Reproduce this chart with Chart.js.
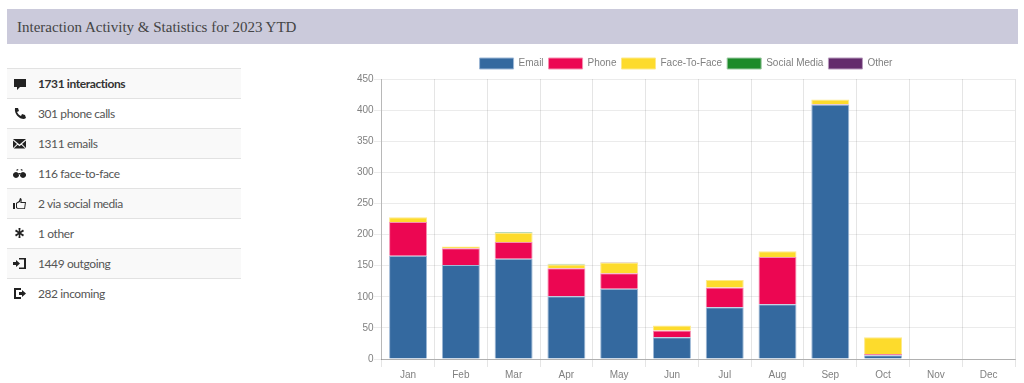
<!DOCTYPE html>
<html>
<head>
<meta charset="utf-8">
<title>Interaction Activity</title>
<script src="https://cdn.jsdelivr.net/npm/chart.js@4/dist/chart.umd.js"></script>
<style>
  html, body { margin: 0; padding: 0; background: #fff; width: 1024px; height: 383px; overflow: hidden; }
  #title {
    position: absolute; left: 7px; top: 9px; width: 1001px; height: 35px; padding-left: 10px;
    background: #cbcadb; color: #444; font: 15px/37px "Liberation Serif", serif;
  }
  #stats { position: absolute; left: 7px; top: 68px; width: 234px; }
  .row {
    height: 29px; border-top: 1px solid #e2e2e2; position: relative;
    font: 12px/30px Lato, sans-serif; letter-spacing: -0.4px; color: #555;
  }
  .row:nth-child(odd) { background: #f9f9f9; }
  .row.total { font-weight: bold; color: #333; }
  .row span { position: absolute; left: 31px; top: 0; white-space: nowrap; }
  .row svg { position: absolute; left: 6px; top: 8px; width: 13px; height: 13px; fill: #222; }
  #chart { position: absolute; left: 352px; top: 53px; }
</style>
</head>
<body>
<div id="title">Interaction Activity &amp; Statistics for 2023 YTD</div>
<div id="stats"></div>
<canvas id="chart" width="666" height="330"></canvas>

<script>
const MONTHS = ['Jan','Feb','Mar','Apr','May','Jun','Jul','Aug','Sep','Oct','Nov','Dec'];

const EMAIL  = [166, 151, 161, 101, 113, 35, 83, 88, 409, 6, 0, 0];
const PHONE  = [54, 27, 27, 45, 25, 11, 32, 76, 1, 2, 0, 0];
const F2F    = [8, 3, 15, 6, 17, 8, 12, 9, 7, 27, 0, 0];
const SOCIAL = [0, 0, 1, 1, 0, 0, 0, 0, 0, 0, 0, 0];
const OTHER  = [0, 0, 0, 0, 1, 0, 0, 0, 0, 0, 0, 0];

const STATS = [
  ['1731 interactions', 'M1 2h12v8H7l-3 3v-3H1z'],
  ['301 phone calls', 'M2 1l3 0 1 3-2 1c1 2 2 3 4 4l1-2 3 1 1 3-2 1C6 12 1 7 2 1z'],
  ['1311 emails', 'M0 2h13L6.500 7.500zM0 3.500l4 3.500-4 4zM13 3.500v7.500l-4-4zM4.700 7.700l1.800 1.500 1.800-1.500 4 3.800H.7z'],
  ['116 face-to-face', 'M3 5a3 3 0 1 0 .01 0zM10 5a3 3 0 1 0 .01 0zM3 3l2-1 .4 1-1.400.700zM10 3l-2-1-.4 1 1.400.700zM5.500 6h2v1.500h-2z'],
  ['2 via social media', 'M0 6h2v6H0zM3 6l3-2 1-3c1.500 0 2 1 1.500 4H13l-1 7H5l-2-1zM4 6.500V10.500l1.500.700h5.700l.7-5.200H7.300l.5-3-.9 2z'],
  ['1 other', 'M5.500 1h2l-.3 3.500L10 2.500l1 1.700-3 1.800 3 1.800-1 1.700-2.800-2L7.500 11h-2l.3-3.500L3 9.500 2 7.800 5 6 2 4.200l1-1.700 2.800 2z'],
  ['1449 outgoing', 'M0 5h3V3l4 3.500L3 10V8H0zM6 1h7v11H6v-1.500h5v-8H6z'],
  ['282 incoming', 'M1 1h7v2H3v7h5v2H1zM6 5h3V3l4 3.500L9 10V8H6z']
];

const box = document.getElementById('stats');
STATS.forEach(([label, icon], i) => {
  const row = document.createElement('div');
  row.className = i === 0 ? 'row total' : 'row';
  row.innerHTML = `<svg viewBox="0 0 13 13"><path fill-rule="evenodd" d="${icon}"/></svg><span>${label}</span>`;
  box.appendChild(row);
});

function series(label, data, color, border) {
  return { label, data, backgroundColor: color, borderColor: border, borderWidth: 1 };
}

Chart.defaults.font.family = '"Liberation Sans", Arial, sans-serif';
Chart.defaults.font.size = 10;
Chart.defaults.color = '#808080';

new Chart(document.getElementById('chart'), {
  type: 'bar',
  data: {
    labels: MONTHS,
    datasets: [
      series('Email', EMAIL, '#34699f', '#9db8d6'),
      series('Phone', PHONE, '#ec0652', '#f58fb0'),
      series('Face-To-Face', F2F, '#fddb2c', '#fde98a'),
      series('Social Media', SOCIAL, '#1d8b2a', '#9cc9a2'),
      series('Other', OTHER, '#632b6c', '#b79bbc')
    ]
  },
  options: {
    responsive: false,
    animation: false,
    layout: { padding: { left: 5, right: 3, top: 0, bottom: 0 } },
    plugins: {
      tooltip: { enabled: false },
      legend: {
        position: 'top',
        labels: { boxWidth: 34, boxHeight: 11, padding: 5 }
      }
    },
    scales: {
      x: {
        stacked: true,
        categoryPercentage: 0.8,
        barPercentage: 0.9,
        grid: { color: 'rgba(0,0,0,0.1)', tickLength: 8, offset: true },
        border: { color: 'rgba(0,0,0,0.25)' },
        ticks: { padding: 2, maxRotation: 0 }
      },
      y: {
        stacked: true,
        min: 0,
        max: 450,
        grid: { color: 'rgba(0,0,0,0.08)', tickLength: 8 },
        border: { color: 'rgba(0,0,0,0.2)' },
        ticks: { stepSize: 50, padding: 0 }
      }
    }
  }
});
</script>
</body>
</html>
